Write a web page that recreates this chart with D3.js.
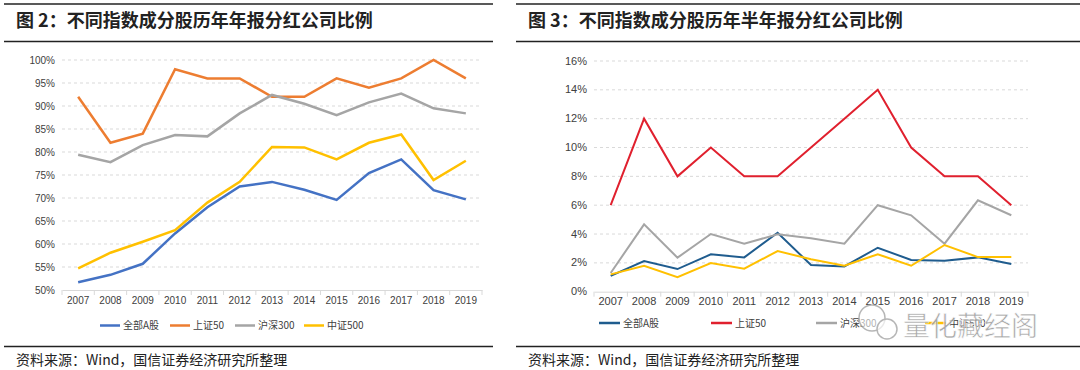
<!DOCTYPE html>
<html>
<head>
<meta charset="utf-8">
<script src="https://cdn.jsdelivr.net/npm/d3@7.9.0/dist/d3.min.js"></script>
<style>
  body { margin: 0; background: #fff; }
  svg { display: block; font-family: "Liberation Sans", Arial, sans-serif; }
  .cjk { font-family: "Noto Sans CJK SC", sans-serif; }
</style>
</head>
<body>
<svg id="chart" width="1080" height="370"></svg>
<script>
const years = ['2007','2008','2009','2010','2011','2012','2013','2014','2015','2016','2017','2018','2019'];
const seriesNames = ['全部A股', '上证50', '沪深300', '中证500'];

// annual report dividend ratio (%)
const annualAll   = [51.7, 53.3, 55.7, 62.3, 68.0, 72.5, 73.5, 71.8, 69.6, 75.4, 78.4, 71.7, 69.7];
const annualSz50  = [92, 82, 84, 98, 96, 96, 92, 92, 96, 94, 96, 100, 96];
const annualHs300 = [79.4, 77.8, 81.5, 83.7, 83.4, 88.4, 92.4, 90.5, 88.0, 90.8, 92.7, 89.5, 88.4];
const annualZz500 = [54.7, 58.1, 60.5, 63.0, 69.0, 73.5, 81.1, 81.0, 78.4, 82.0, 83.8, 73.9, 78.1];

// semi-annual report dividend ratio (%)
const halfAll   = [1.1, 2.13, 1.57, 2.59, 2.38, 4.09, 1.85, 1.75, 3.05, 2.2, 2.15, 2.38, 1.92];
const halfSz50  = [6, 12, 8, 10, 8, 8, 10, 12, 14, 10, 8, 8, 6];
const halfHs300 = [1.3, 4.67, 2.36, 4.0, 3.33, 3.98, 3.7, 3.33, 6.0, 5.3, 3.33, 6.34, 5.3];
const halfZz500 = [1.2, 1.8, 1.0, 1.99, 1.6, 2.82, 2.25, 1.8, 2.6, 1.8, 3.24, 2.4, 2.4];

const leftTicks  = [50, 55, 60, 65, 70, 75, 80, 85, 90, 95, 100];
const rightTicks = [0, 2, 4, 6, 8, 10, 12, 14, 16];

const svg = d3.select('#chart');

function header(x0, x1, title) {
  svg.append('line').attr('x1', x0).attr('x2', x1).attr('y1', 4).attr('y2', 4)
    .attr('stroke', '#222').attr('stroke-width', 1.5);
  svg.append('line').attr('x1', x0).attr('x2', x1).attr('y1', 41.5).attr('y2', 41.5)
    .attr('stroke', '#222').attr('stroke-width', 1.5);
  svg.append('text').attr('class', 'cjk').attr('x', x0 + 12).attr('y', 27)
    .attr('font-size', 18).attr('font-weight', 'bold').attr('fill', '#222')
    .text(title);
  svg.append('line').attr('x1', x0).attr('x2', x1).attr('y1', 346.5).attr('y2', 346.5)
    .attr('stroke', '#222').attr('stroke-width', 1.5);
  svg.append('text').attr('class', 'cjk').attr('x', x0 + 12).attr('y', 365)
    .attr('font-size', 14).attr('fill', '#222')
    .text('资料来源：Wind，国信证券经济研究所整理');
}

function drawChart(opt) {
  const x = d3.scaleBand().domain(years).range([opt.left, opt.right]);
  const y = d3.scaleLinear().domain(opt.domain).range([opt.bottom, opt.top]);
  const g = svg.append('g');

  // dashed gridlines
  g.selectAll('.grid').data(opt.ticks.filter(t => t !== opt.domain[0])).join('line')
    .attr('x1', opt.left).attr('x2', opt.right)
    .attr('y1', d => y(d)).attr('y2', d => y(d))
    .attr('stroke', '#d9d9d9').attr('stroke-dasharray', '3,3');

  // y labels
  g.selectAll('.ylab').data(opt.ticks).join('text')
    .attr('x', opt.left - 7).attr('y', d => y(d) + 3.5)
    .attr('text-anchor', 'end').attr('font-size', opt.fs).attr('fill', '#404040')
    .text(d => d + '%');

  // x axis
  const xAxis = d3.axisBottom(x).tickSize(0).tickPadding(opt.pad);
  const ax = g.append('g').attr('transform', `translate(0,${opt.bottom})`).call(xAxis);
  ax.select('.domain').attr('stroke', '#d9d9d9');
  ax.selectAll('text').attr('font-size', opt.fs).attr('fill', '#404040')
    .attr('font-family', '"Liberation Sans", Arial, sans-serif');
  g.selectAll('.xtick').data(years.concat(['end'])).join('line')
    .attr('x1', (d, i) => opt.left + i * x.bandwidth()).attr('x2', (d, i) => opt.left + i * x.bandwidth())
    .attr('y1', opt.bottom).attr('y2', opt.bottom + 5).attr('stroke', '#d9d9d9');

  const line = d3.line().x((d, i) => x(years[i]) + x.bandwidth() / 2).y(d => y(d));
  opt.series.forEach((s, k) => {
    g.append('path').datum(s).attr('d', line).attr('fill', 'none')
      .attr('stroke', opt.colors[k]).attr('stroke-width', opt.lw).attr('stroke-linejoin', 'miter');
  });

  // legend
  seriesNames.forEach((name, k) => {
    const lx = opt.legendX[k];
    g.append('line').attr('x1', lx).attr('x2', lx + opt.legendLen)
      .attr('y1', opt.legendY).attr('y2', opt.legendY)
      .attr('stroke', opt.colors[k]).attr('stroke-width', 2.5);
    g.append('text').attr('class', 'cjk').attr('x', lx + opt.legendLen + 3).attr('y', opt.legendY + 3.5)
      .attr('font-size', 10).attr('fill', '#404040').text(name);
  });
}

header(4, 493, '图 2：不同指数成分股历年年报分红公司比例');
header(516, 1080, '图 3：不同指数成分股历年半年报分红公司比例');

drawChart({
  left: 62, right: 482, top: 60, bottom: 290, domain: [50, 100], ticks: leftTicks,
  series: [annualAll, annualSz50, annualHs300, annualZz500],
  colors: ['#4472C4', '#ED7D31', '#A5A5A5', '#FFC000'],
  lw: 2.5, fs: 10, pad: 7,
  legendX: [100, 170, 235, 304], legendLen: 20, legendY: 325.5
});

drawChart({
  left: 594, right: 1028, top: 61, bottom: 291.7, domain: [0, 16], ticks: rightTicks,
  series: [halfAll, halfSz50, halfHs300, halfZz500],
  colors: ['#1F5C8E', '#E0202E', '#A5A5A5', '#FFC000'],
  lw: 2, fs: 11, pad: 6,
  legendX: [599, 711, 816, 925], legendLen: 21, legendY: 323
});

// watermark
const wm = svg.append('g').attr('opacity', 0.85);
wm.append('circle').attr('cx', 872).attr('cy', 318).attr('r', 13)
  .attr('fill', 'rgba(255,255,255,0.7)').attr('stroke', '#aaa').attr('stroke-width', 1.5);
wm.append('circle').attr('cx', 887).attr('cy', 329).attr('r', 10)
  .attr('fill', 'rgba(255,255,255,0.7)').attr('stroke', '#aaa').attr('stroke-width', 1.5);
wm.append('text').attr('class', 'cjk').attr('x', 903).attr('y', 336)
  .attr('font-size', 27).attr('fill', '#999').attr('stroke', '#fff').attr('stroke-width', 0.6)
  .text('量化藏经阁');
</script>
</body>
</html>
